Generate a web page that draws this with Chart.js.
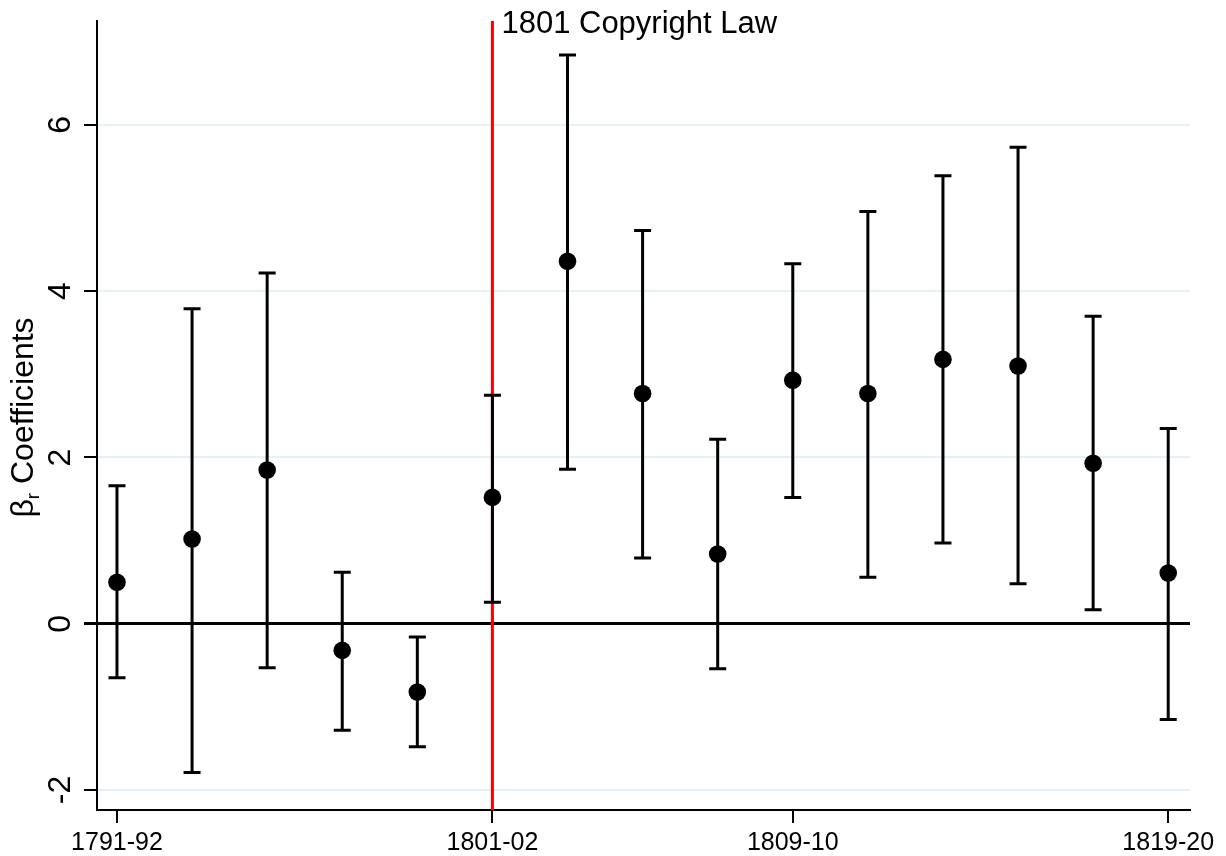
<!DOCTYPE html>
<html>
<head>
<meta charset="utf-8">
<script src="https://cdn.jsdelivr.net/npm/chart.js@4.4.1/dist/chart.umd.min.js"></script>
<style>
    html, body { margin: 0; padding: 0; background: #fff; }
    #wrap { width: 1226px; height: 856px; }
</style>
</head>
<body>
<div id="wrap"><canvas id="coefChart"></canvas></div>
<script>
// periods on the x axis (two-year windows)
const periods = ['1791-92', '1793-94', '1795-96', '1797-98', '1799-1800', '1801-02', '1803-04',
    '1805-06', '1807-08', '1809-10', '1811-12', '1813-14', '1815-16', '1817-18', '1819-20'];
const xTickIdx = [0, 5, 9, 14];
const yTicks = [-2, 0, 2, 4, 6];

// estimated coefficients and confidence interval bounds
const coef = [0.50, 1.02, 1.85, -0.32, -0.82, 1.52, 4.36, 2.77, 0.84, 2.93, 2.77, 3.18, 3.10, 1.93, 0.61];
const upper = [1.66, 3.79, 4.22, 0.62, -0.16, 2.75, 6.84, 4.73, 2.22, 4.33, 4.96, 5.39, 5.73, 3.70, 2.35];
const lower = [-0.65, -1.79, -0.53, -1.28, -1.48, 0.26, 1.86, 0.79, -0.54, 1.52, 0.56, 0.97, 0.48, 0.17, -1.15];

const lawIdx = 5;
const lawLabel = '1801 Copyright Law';
const FONT = '"Liberation Sans", Arial, Helvetica, sans-serif';

const overlay = {
    id: 'overlay',
    beforeDatasetsDraw(chart) {
        const c = chart.ctx, x = chart.scales.x, y = chart.scales.y, area = chart.chartArea;
        c.save();
        // law marker
        const lx = x.getPixelForValue(lawIdx);
        c.strokeStyle = '#ff0000';
        c.lineWidth = 3;
        c.beginPath();
        c.moveTo(lx, area.top);
        c.lineTo(lx, area.bottom);
        c.stroke();
        c.fillStyle = '#000';
        c.font = '31px ' + FONT;
        c.textBaseline = 'alphabetic';
        c.fillText(lawLabel, lx + 9, 33);

        // confidence intervals
        c.strokeStyle = '#000';
        c.lineWidth = 3;
        coef.forEach((v, i) => {
            const px = x.getPixelForValue(i);
            const top = y.getPixelForValue(upper[i]);
            const bot = y.getPixelForValue(lower[i]);
            c.beginPath();
            c.moveTo(px, top);
            c.lineTo(px, bot);
            c.moveTo(px - 8.5, top);
            c.lineTo(px + 8.5, top);
            c.moveTo(px - 8.5, bot);
            c.lineTo(px + 8.5, bot);
            c.stroke();
        });
        c.restore();
    },
    afterDraw(chart) {
        const c = chart.ctx, y = chart.scales.y, area = chart.chartArea;
        c.save();
        c.fillStyle = '#000';
        // rotated y tick labels
        c.font = '32px ' + FONT;
        c.textAlign = 'center';
        c.textBaseline = 'alphabetic';
        yTicks.forEach(t => {
            const py = y.getPixelForValue(t);
            c.save();
            c.translate(70, py);
            c.rotate(-Math.PI / 2);
            c.fillText(String(t), 0, 0);
            c.restore();
        });
        // y axis title: beta with subscript r
        const big = '32px ' + FONT, small = '19px ' + FONT;
        c.font = big;
        const wB = c.measureText('\u03B2').width;
        const wC = c.measureText(' Coefficients').width;
        c.font = small;
        const wR = c.measureText('r').width;
        const total = wB + wR + wC;
        const cy = (area.top + area.bottom) / 2 + 2;
        c.translate(33, cy);
        c.rotate(-Math.PI / 2);
        c.textAlign = 'left';
        let pos = -total / 2;
        c.font = big;
        c.fillText('\u03B2', pos, 0);
        pos += wB;
        c.font = small;
        c.fillText('r', pos, 6);
        pos += wR;
        c.font = big;
        c.fillText(' Coefficients', pos, 0);
        c.restore();
    }
};

new Chart(document.getElementById('coefChart'), {
    type: 'scatter',
    data: {
        datasets: [{
            data: coef.map((v, i) => ({x: i, y: v})),
            backgroundColor: '#000',
            borderColor: '#000',
            pointRadius: 8.8,
            pointHoverRadius: 8.8,
            borderWidth: 0
        }]
    },
    options: {
        responsive: true,
        maintainAspectRatio: false,
        animation: false,
        events: [],
        layout: {padding: {top: 20, right: 36, left: 0, bottom: 0}},
        plugins: {legend: {display: false}, tooltip: {enabled: false}},
        scales: {
            x: {
                type: 'linear',
                min: -0.266,
                max: 14.29,
                afterBuildTicks: scale => { scale.ticks = xTickIdx.map(v => ({value: v})); },
                afterFit: scale => { scale.height = 46; },
                grid: {drawOnChartArea: false, drawTicks: true, tickLength: 13, tickColor: '#000', lineWidth: 2},
                border: {display: true, color: '#000', width: 2},
                ticks: {
                    autoSkip: false,
                    maxRotation: 0,
                    padding: 5,
                    color: '#000',
                    font: {family: FONT, size: 25},
                    callback: v => periods[v]
                }
            },
            y: {
                min: -2.24,
                max: 7.25,
                afterBuildTicks: scale => { scale.ticks = yTicks.map(v => ({value: v})); },
                afterFit: scale => { scale.width = 97; },
                grid: {
                    color: ctx => ctx.tick && ctx.tick.value === 0 ? '#000' : '#e8f0f3',
                    lineWidth: ctx => ctx.tick && ctx.tick.value === 0 ? 3 : 2,
                    tickColor: '#000',
                    tickLength: 13,
                    drawTicks: true
                },
                border: {display: true, color: '#000', width: 2},
                ticks: {color: 'rgba(0,0,0,0)', font: {family: FONT, size: 30}}
            }
        }
    },
    plugins: [overlay]
});
</script>
</body>
</html>
